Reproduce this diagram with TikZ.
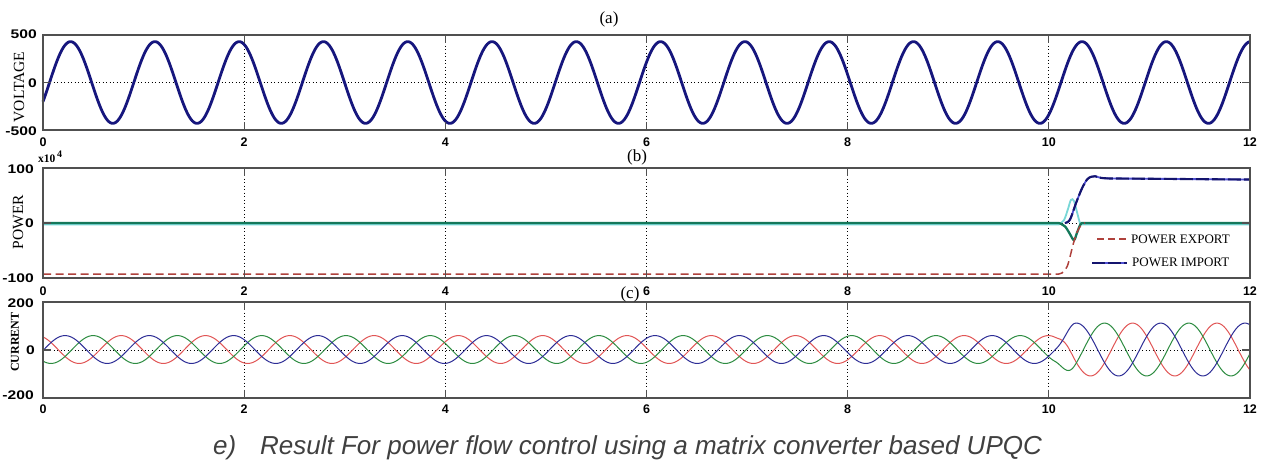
\documentclass[tikz,border=0pt]{standalone}
\usepackage{fontspec}
\setmainfont{Liberation Serif}
\setsansfont{Liberation Sans}
\definecolor{voltnavy}{RGB}{22,22,125}
\definecolor{curred}{RGB}{225,85,85}
\definecolor{curgreen}{RGB}{45,140,65}
\definecolor{curblue}{RGB}{45,45,150}
\definecolor{powgreen}{RGB}{20,120,90}
\definecolor{powcyan}{RGB}{120,215,215}
\definecolor{expred}{RGB}{175,65,60}
\definecolor{impnavy}{RGB}{20,20,110}
\definecolor{impblue}{RGB}{80,80,210}
\definecolor{framegray}{RGB}{80,80,80}
\begin{document}
\begin{tikzpicture}[x=1pt,y=-1pt,
  frame/.style={draw=framegray,line width=1.3pt},
  tickline/.style={draw=framegray,line width=1.2pt},
  gridline/.style={black,line width=0.9pt,dash pattern=on 0.9pt off 2.6pt},
  xlab/.style={font=\fontsize{12.5}{13}\sffamily\bfseries,inner sep=0pt},
  ylab/.style={font=\fontsize{12.5}{13}\sffamily\bfseries,inner sep=0pt,anchor=east,xscale=1.25},
  axtitle/.style={font=\fontsize{17}{19}\selectfont,inner sep=0pt},
  yname/.style={font=\fontsize{15.5}{17}\selectfont,inner sep=0pt,rotate=90},
  legtext/.style={font=\fontsize{13}{15}\selectfont,inner sep=0pt,anchor=west},
  curve/.style={line width=1pt,line join=round},
  declare function={ramp(\q)=min(1,max(0,\q));
                    smo(\q)=ramp(\q)*ramp(\q)*(3-2*ramp(\q));
                    camp(\q)=58+52*smo((\q-10.06)/0.2);}
]
\useasboundingbox (0,0) rectangle (1263,463);
\fill[white] (0,0) rectangle (1263,463);

% ---------- grids ----------
\foreach \T/\B/\Z in {35/130/82.5,168/278/223,302/398/350}{
  \foreach \k in {2,4,6,8,10}{
    \draw[gridline] ({43+100.58*\k},\T) -- ({43+100.58*\k},\B);
  }
  \draw[gridline] (43,\Z) -- (1250,\Z);
}

% ---------- panel (a): voltage ----------
\begin{scope}[shift={(43,82.5)},x=100.58pt,y=0.095pt]
  \draw[voltnavy,line width=2.8pt,line join=round]
    plot[domain=0:12,samples=1400] (\x,{430*sin(360*(\x-0.065)/0.838)});
\end{scope}

% ---------- panel (b): power ----------
\begin{scope}[shift={(43,223)},x=100.58pt,y=0.55pt]
  % cyan trace
  \draw[powcyan,line width=1.8pt]
    (0,-2.6) -- plot[smooth,tension=0.6] coordinates
      {(10.1,-2.6) (10.15,5) (10.19,25) (10.22,42) (10.25,40) (10.28,20) (10.31,0) (10.33,-2.6)}
    -- (12,-2.6);
  % green trace
  \draw[powgreen,line width=2.3pt]
    (0,0) -- plot[smooth,tension=0.6] coordinates
      {(10.1,0) (10.16,-6) (10.21,-20) (10.25,-31) (10.28,-18) (10.31,-4) (10.33,0)}
    -- (12,0);
  % power export (red dashed)
  \draw[expred,line width=1.5pt,dash pattern=on 8pt off 4.5pt]
    (0,-93) -- plot[smooth,tension=0.55] coordinates
      {(10.08,-93) (10.13,-91) (10.18,-80) (10.21,-62) (10.24,-40) (10.28,-17) (10.32,-4) (10.36,0)};
  % power import (blue + navy)
  \draw[impblue,line width=1.8pt]
    plot[smooth,tension=0.55] coordinates
      {(10.16,0) (10.21,6) (10.27,36) (10.33,63) (10.38,79) (10.42,84) (10.46,85) (10.52,82) (10.6,81)}
    -- (12,79);
  \draw[impnavy,line width=2.1pt,dash pattern=on 13pt off 3pt]
    plot[smooth,tension=0.55] coordinates
      {(10.16,0) (10.21,6) (10.27,36) (10.33,63) (10.38,79) (10.42,84) (10.46,85) (10.52,82) (10.6,81)}
    -- (12,79);
\end{scope}

% ---------- panel (c): current ----------
\begin{scope}[shift={(43,350)},x=100.58pt,y=0.24pt]
  \draw[curred,curve]
    plot[domain=0:12,samples=1400] (\x,{2+camp(\x)*cos(360*(\x+0.06)/0.838)});
  \draw[curgreen,curve]
    plot[domain=0:12,samples=1400] (\x,{2+camp(\x)*cos(360*(\x-0.4983)/0.838)});
  \draw[curblue,curve]
    plot[domain=0:12,samples=1400] (\x,{2+camp(\x)*cos(360*(\x-0.2193)/0.838)});
\end{scope}

% ---------- frames and ticks ----------
\foreach \T/\B/\Z in {35/130/82.5,168/278/223,302/398/350}{
  \draw[frame] (43,\T) rectangle (1250,\B);
  \foreach \k in {0,2,...,12}{
    \draw[tickline] ({43+100.58*\k},\T) -- ({43+100.58*\k},\T+8);
    \draw[tickline] ({43+100.58*\k},\B) -- ({43+100.58*\k},\B-8);
  }
  \draw[tickline] (43,\Z) -- (51,\Z);
  \draw[tickline] (1250,\Z) -- (1242,\Z);
}

% ---------- x tick labels ----------
\foreach \k in {0,2,...,12}{
  \node[xlab] (xa\k) at ({43+100.58*\k},142.5) {\k};
  \node[xlab] (xb\k) at ({43+100.58*\k},291) {\k};
  \node[xlab] (xc\k) at ({43+100.58*\k},409) {\k};
}

% ---------- y tick labels ----------
\node[ylab] (ya1) at (37,34) {500};
\node[ylab] (ya2) at (37,83) {0};
\node[ylab] (ya3) at (37,131) {-500};
\node[ylab] (yb1) at (34,169) {100};
\node[ylab] (yb2) at (34,223) {0};
\node[ylab] (yb3) at (34,278) {-100};
\node[ylab] (yc1) at (34,303) {200};
\node[ylab] (yc2) at (35,350) {0};
\node[ylab] (yc3) at (34,395) {-200};
\node[font=\fontsize{11.5}{12}\selectfont\bfseries,inner sep=0pt,anchor=base west] (xten) at (38,162) {x10\raisebox{4.5pt}{\fontsize{10}{11}\selectfont\,4}};

% ---------- axis names ----------
\node[yname] (vname) at (19,87) {VOLTAGE};
\node[yname] (pname) at (18,222) {POWER};
\node[yname,font=\fontsize{12}{13}\selectfont\bfseries] (cname) at (15,342) {CURRENT};

% ---------- panel titles ----------
\node[axtitle] (ta) at (609,19) {(a)};
\node[axtitle] (tb) at (637,157) {(b)};
\node[axtitle] (tc) at (630,294) {(c)};

% ---------- legend ----------
\coordinate (le1) at (1097,239);
\coordinate (le2) at (1126,239);
\coordinate (li1) at (1092,263);
\coordinate (li2) at (1127,263);
\draw[expred,line width=1.5pt,dash pattern=on 7pt off 4pt] (le1) -- (le2);
\draw[impblue,line width=1.8pt] (li1) -- (li2);
\draw[impnavy,line width=2.2pt,dash pattern=on 13pt off 3pt] (li1) -- (li2);
\node[legtext] (lexp) at (1131,239) {POWER EXPORT};
\node[legtext] (limp) at (1132,262) {POWER IMPORT};

% ---------- caption ----------
\node[font=\fontsize{26}{30}\sffamily\itshape,text=black!75,inner sep=0pt,anchor=base west] (cap1) at (213,454) {e)};
\node[font=\fontsize{26}{30}\sffamily\itshape,text=black!75,inner sep=0pt,anchor=base west] (cap2) at (260,454) {Result For power flow control using a matrix converter based UPQC};
\end{tikzpicture}
\end{document}
